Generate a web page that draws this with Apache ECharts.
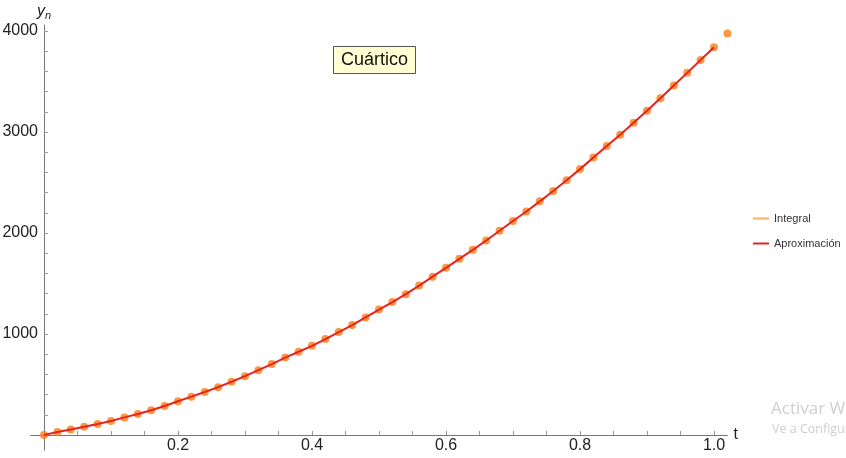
<!DOCTYPE html>
<html lang="es">
<head>
    <meta charset="UTF-8">
    <title>Cuártico</title>
    <script src="https://cdn.jsdelivr.net/npm/echarts@6/dist/echarts.min.js"></script>
    <style>
        html, body { margin: 0; padding: 0; background: #fff; }
        #main { width: 846px; height: 458px; }
    </style>
</head>
<body>
<div id="main"></div>
<script type="text/javascript">
    // valores de t (puntos de la integral)
    var tVals = [0, 0.02, 0.04, 0.06, 0.08, 0.10, 0.12, 0.14, 0.16, 0.18,
        0.20, 0.22, 0.24, 0.26, 0.28, 0.30, 0.32, 0.34, 0.36, 0.38,
        0.40, 0.42, 0.44, 0.46, 0.48, 0.50, 0.52, 0.54, 0.56, 0.58,
        0.60, 0.62, 0.64, 0.66, 0.68, 0.70, 0.72, 0.74, 0.76, 0.78,
        0.80, 0.82, 0.84, 0.86, 0.88, 0.90, 0.92, 0.94, 0.96, 0.98,
        1.00, 1.02];
    // Integral (puntos)
    var integralVals = [0, 30, 56, 82, 110, 139, 175, 208, 246, 287,
        335, 380, 426, 474, 528, 583, 642, 703, 767, 825,
        883, 950, 1020, 1089, 1165, 1242, 1317, 1395, 1480, 1568,
        1656, 1745, 1834, 1926, 2023, 2119, 2213, 2314, 2416, 2523,
        2633, 2748, 2861, 2974, 3092, 3211, 3334, 3461, 3586, 3713,
        3839, 3977];
    // Aproximación (línea, hasta t = 1)
    var aproxVals = [0, 30, 56, 82, 110, 139, 175, 208, 246, 287,
        335, 380, 426, 474, 528, 583, 642, 703, 767, 825,
        883, 950, 1020, 1089, 1165, 1242, 1317, 1395, 1480, 1568,
        1656, 1745, 1834, 1926, 2023, 2119, 2213, 2314, 2416, 2523,
        2633, 2748, 2861, 2974, 3092, 3211, 3334, 3461, 3586, 3713,
        3839];
    // marcas de los ejes
    var xTicks = [0.05, 0.1, 0.15, 0.2, 0.25, 0.3, 0.35, 0.4, 0.45, 0.5,
        0.55, 0.6, 0.65, 0.7, 0.75, 0.8, 0.85, 0.9, 0.95, 1.0];
    var xLabels = [0.2, 0.4, 0.6, 0.8, 1.0];
    var yTicks = [200, 400, 600, 800, 1000, 1200, 1400, 1600, 1800, 2000,
        2200, 2400, 2600, 2800, 3000, 3200, 3400, 3600, 3800, 4000];
    var yLabels = [1000, 2000, 3000, 4000];

    var integralData = tVals.map(function (t, i) { return [t, integralVals[i]]; });
    var aproxData = aproxVals.map(function (v, i) { return [tVals[i], v]; });

    var myChart = echarts.init(document.getElementById('main'));

    var option = {
        animation: false,
        textStyle: { fontFamily: 'Liberation Sans, Arial, sans-serif' },
        title: {
            text: 'Cuártico',
            left: 333,
            top: 46,
            padding: [5, 8, 5, 8],
            backgroundColor: '#ffffd2',
            borderColor: '#555',
            borderWidth: 1,
            textStyle: { fontSize: 18, fontWeight: 'normal', color: '#111' }
        },
        legend: {
            orient: 'vertical',
            left: 748,
            top: 208,
            itemGap: 14,
            itemWidth: 16,
            itemHeight: 2,
            textStyle: { fontSize: 11, color: '#333' },
            data: [
                { name: 'Integral', icon: 'rect', itemStyle: { color: '#f9a030' } },
                { name: 'Aproximación', icon: 'rect', itemStyle: { color: '#e32222' } }
            ]
        },
        grid: {
            left: 30.6,
            right: 118.6,
            top: 25,
            bottom: 7.8,
            containLabel: false,
            outerBoundsMode: 'none'
        },
        xAxis: {
            type: 'value',
            min: -0.02,
            max: 1.02,
            name: 't',
            nameLocation: 'end',
            nameGap: 6,
            nameTextStyle: { fontSize: 16, color: '#222', verticalAlign: 'middle' },
            axisLine: { onZero: true, lineStyle: { color: '#777', width: 1 } },
            axisTick: { show: true, inside: true, length: 4, customValues: xTicks, lineStyle: { color: '#999' } },
            // las etiquetas quedan en el borde de la rejilla, se suben hasta el eje y = 0
            axisLabel: { fontSize: 16, color: '#222', margin: -13, customValues: xLabels,
                formatter: function (v) { return v.toFixed(1); } },
            splitLine: { show: false }
        },
        yAxis: {
            type: 'value',
            min: -150,
            max: 4060,
            name: '{i|y}{s|n}',
            nameLocation: 'end',
            nameGap: 4,
            nameTextStyle: {
                color: '#222',
                rich: {
                    i: { fontSize: 16, fontStyle: 'italic', color: '#222' },
                    s: { fontSize: 11, fontStyle: 'italic', color: '#222', verticalAlign: 'bottom', padding: [8, 0, 0, 0] }
                }
            },
            axisLine: { onZero: true, lineStyle: { color: '#777', width: 1 } },
            axisTick: { show: true, inside: true, length: 4, customValues: yTicks, lineStyle: { color: '#999' } },
            axisLabel: { fontSize: 16, color: '#222', margin: -7.4, customValues: yLabels,
                formatter: function (v) { return String(v); } },
            splitLine: { show: false }
        },
        graphic: [
            { type: 'text', left: 771, top: 401, style: { text: 'Activar Windows', fontSize: 17, fill: '#cfcfcf', fontFamily: 'Open Sans, sans-serif' } },
            { type: 'text', left: 772, top: 423, style: { text: 'Ve a Configuración para activar Windows.', fontSize: 12.5, fill: '#cfcfcf', fontFamily: 'Open Sans, sans-serif' } }
        ],
        series: [
            {
                name: 'Integral',
                type: 'scatter',
                symbol: 'circle',
                symbolSize: 8,
                itemStyle: { color: '#fb7d16' },
                data: integralData
            },
            {
                name: 'Aproximación',
                type: 'line',
                showSymbol: false,
                symbol: 'none',
                lineStyle: { color: '#e8231c', width: 2 },
                itemStyle: { color: '#e8231c' },
                data: aproxData
            }
        ]
    };

    myChart.setOption(option);
</script>
</body>
</html>
